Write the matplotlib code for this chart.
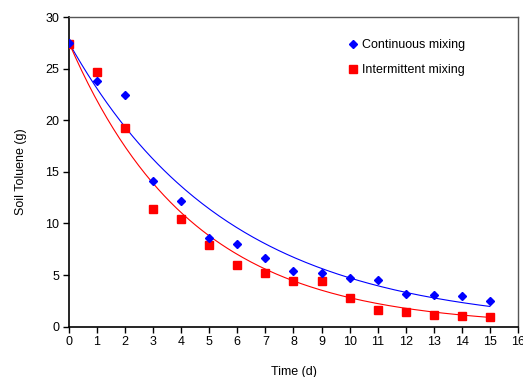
import numpy as np
import matplotlib
matplotlib.use("Agg")
import matplotlib.pyplot as plt

plt.rcParams['font.family'] = ['Liberation Sans', 'DejaVu Sans']

time_d = [0, 1, 2, 3, 4, 5, 6, 7, 8, 9, 10, 11, 12, 13, 14, 15]
continuous = [27.5, 23.8, 22.4, 14.1, 12.2, 8.6, 8.0, 6.7, 5.4, 5.2, 4.7, 4.5, 3.2, 3.05, 2.95, 2.45]
intermittent = [27.4, 24.7, 19.25, 11.4, 10.4, 7.95, 5.95, 5.2, 4.45, 4.45, 2.75, 1.6, 1.4, 1.1, 1.05, 0.95]

# exponential decay fits y = a*exp(-k t), parameters
fit_a = 27.5
k_continuous = 0.176
k_intermittent = 0.228

fig = plt.figure(figsize=(5.23, 3.77), dpi=100)
ax = fig.add_axes([0.1319, 0.1334, 0.8585, 0.8215])

tt = np.linspace(0, 15, 200)
ax.plot(tt, fit_a * np.exp(-k_continuous * tt), color='#0000FF', lw=0.8, zorder=2)
ax.plot(tt, fit_a * np.exp(-k_intermittent * tt), color='#FF0000', lw=0.8, zorder=2)

ax.plot(time_d, intermittent, 's', color='#FF0000', ms=6.3, mec='#FF0000', label='Intermittent mixing', zorder=3)
ax.plot(time_d, continuous, 'D', color='#0000FF', ms=4.3, mec='#0000FF', label='Continuous mixing', zorder=4)

ax.set_xlim(0, 16)
ax.set_ylim(0, 30)
ax.set_xticks(range(0, 17))
ax.set_yticks(range(0, 31, 5))
ax.tick_params(direction='out', length=4, width=1, labelsize=9, pad=3)
for s in ['left', 'bottom']:
    ax.spines[s].set_color('black')
    ax.spines[s].set_linewidth(1.2)
for s in ['top', 'right']:
    ax.spines[s].set_color('#555555')
    ax.spines[s].set_linewidth(1.0)

ax.set_xlabel('Time (d)', fontsize=9, labelpad=13)
ax.set_ylabel('Soil Toluene (g)', fontsize=9, labelpad=13)

h, l = ax.get_legend_handles_labels()
ax.legend([h[1], h[0]], [l[1], l[0]], loc='upper left', bbox_to_anchor=(0.603, 0.956),
          frameon=False, fontsize=9, handlelength=0.8, handletextpad=0.3,
          labelspacing=1.0, borderpad=0.2)

fig.savefig('out.png', dpi=100)
